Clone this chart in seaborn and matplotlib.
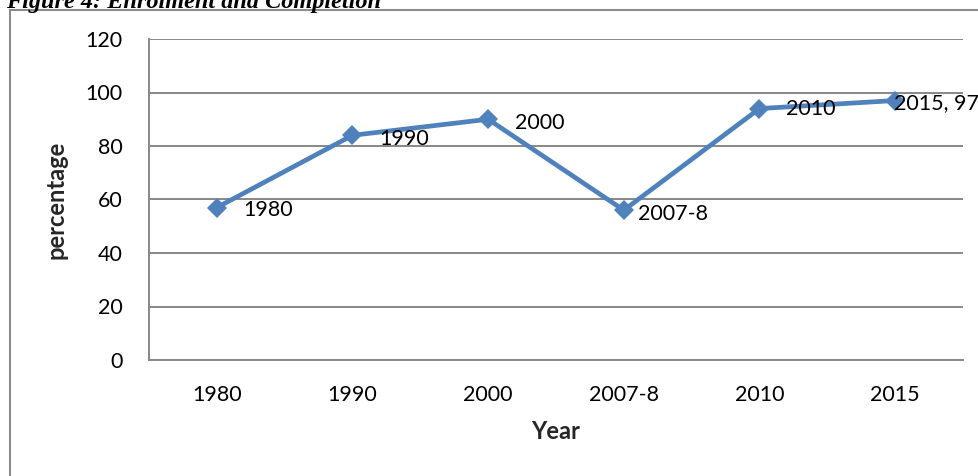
import matplotlib
matplotlib.use("Agg")
import matplotlib.pyplot as plt
import seaborn as sns
import pandas as pd
from matplotlib.patches import Rectangle

# Enrolment / completion percentage by year
years = ["1980", "1990", "2000", "2007-8", "2010", "2015"]
values = [57, 84, 90, 56, 94, 97]
point_labels = ["1980", "1990", "2000", "2007-8", "2010", "2015, 97"]
y_ticks = [0, 20, 40, 60, 80, 100, 120]

# horizontal / vertical label offsets in points
label_dx = [19, 19, 19, 10, 19, -1]
label_dy = [-2, -2.5, -2.5, -2.5, -0.5, -1.5]

W, H, DPI = 979, 476, 100
sns.set_theme(style="white")
plt.rcParams["font.family"] = ["Lato", "DejaVu Sans"]

fig = plt.figure(figsize=(W / DPI, H / DPI), dpi=DPI)
ax = fig.add_axes([149 / W, 1 - 360 / H, (963 - 149) / W, (360 - 39) / H])

df = pd.DataFrame({"Year": years, "percentage": values})
blue = "#4F81BD"
grey = "#878787"

sns.lineplot(data=df, x="Year", y="percentage", sort=False, ax=ax,
             color=blue, linewidth=3.4, marker="D", markersize=10.5,
             markeredgewidth=0, markerfacecolor=blue)

ax.set_xlim(-0.5, len(years) - 0.5)
ax.set_ylim(0, 120)
ax.set_yticks(y_ticks)
ax.set_yticklabels([str(t) for t in y_ticks])
ax.tick_params(axis="both", length=0, labelsize=15.5, colors="black")
ax.tick_params(axis="y", pad=19)
ax.tick_params(axis="x", pad=18)
ax.yaxis.grid(True, color=grey, linewidth=1.4)
ax.xaxis.grid(False)
ax.set_axisbelow(True)

for side in ["top", "right"]:
    ax.spines[side].set_visible(False)
for side in ["left", "bottom"]:
    ax.spines[side].set_color(grey)
    ax.spines[side].set_linewidth(1.4)

ax.set_xlabel("Year", fontsize=17, fontweight="bold", labelpad=11)
ax.set_ylabel("percentage", fontsize=17, fontweight="bold", labelpad=13)

for i, (lab, v) in enumerate(zip(point_labels, values)):
    ax.annotate(lab, (i, v), xytext=(label_dx[i], label_dy[i]),
                textcoords="offset points", ha="left", va="center",
                fontsize=15.5, color="black", annotation_clip=False)

# outer chart frame
fig.patches.append(Rectangle((10 / W, -0.1), 1.2, 1 - 10 / H + 0.1,
                             transform=fig.transFigure, fill=False,
                             edgecolor="#8c8c8c", linewidth=1.5))

fig.text(6 / W, 1 - 8 / H, "Figure 4: Enrolment and Completion",
         family="Liberation Serif", fontweight="bold", fontstyle="italic",
         fontsize=17.5, ha="left", va="baseline", color="black")

fig.savefig("out.png", dpi=DPI)
